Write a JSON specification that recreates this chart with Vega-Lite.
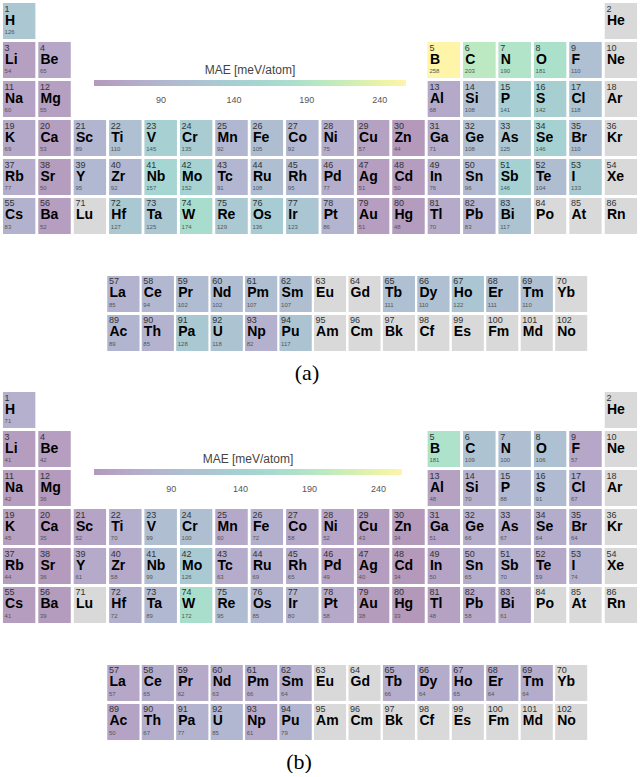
{
  "$schema": "https://vega.github.io/schema/vega-lite/v6.json",
  "padding": 0,
  "background": "white",
  "config": {"view": {"stroke": null}},
  "datasets": {
    "el": [
      {"n":1,"s":"H","c":1,"r":1,"a":126,"b":71},
      {"n":2,"s":"He","c":18,"r":1,"a":null,"b":null},
      {"n":3,"s":"Li","c":1,"r":2,"a":54,"b":41},
      {"n":4,"s":"Be","c":2,"r":2,"a":65,"b":42},
      {"n":5,"s":"B","c":13,"r":2,"a":258,"b":181},
      {"n":6,"s":"C","c":14,"r":2,"a":203,"b":109},
      {"n":7,"s":"N","c":15,"r":2,"a":190,"b":100},
      {"n":8,"s":"O","c":16,"r":2,"a":181,"b":106},
      {"n":9,"s":"F","c":17,"r":2,"a":110,"b":57},
      {"n":10,"s":"Ne","c":18,"r":2,"a":null,"b":null},
      {"n":11,"s":"Na","c":1,"r":3,"a":60,"b":42},
      {"n":12,"s":"Mg","c":2,"r":3,"a":55,"b":36},
      {"n":13,"s":"Al","c":13,"r":3,"a":68,"b":48},
      {"n":14,"s":"Si","c":14,"r":3,"a":108,"b":70},
      {"n":15,"s":"P","c":15,"r":3,"a":141,"b":88},
      {"n":16,"s":"S","c":16,"r":3,"a":142,"b":91},
      {"n":17,"s":"Cl","c":17,"r":3,"a":118,"b":67},
      {"n":18,"s":"Ar","c":18,"r":3,"a":null,"b":null},
      {"n":19,"s":"K","c":1,"r":4,"a":69,"b":45},
      {"n":20,"s":"Ca","c":2,"r":4,"a":53,"b":35},
      {"n":21,"s":"Sc","c":3,"r":4,"a":89,"b":52},
      {"n":22,"s":"Ti","c":4,"r":4,"a":110,"b":70},
      {"n":23,"s":"V","c":5,"r":4,"a":145,"b":99},
      {"n":24,"s":"Cr","c":6,"r":4,"a":135,"b":100},
      {"n":25,"s":"Mn","c":7,"r":4,"a":92,"b":60},
      {"n":26,"s":"Fe","c":8,"r":4,"a":105,"b":72},
      {"n":27,"s":"Co","c":9,"r":4,"a":92,"b":58},
      {"n":28,"s":"Ni","c":10,"r":4,"a":75,"b":52},
      {"n":29,"s":"Cu","c":11,"r":4,"a":57,"b":43},
      {"n":30,"s":"Zn","c":12,"r":4,"a":44,"b":34},
      {"n":31,"s":"Ga","c":13,"r":4,"a":71,"b":51},
      {"n":32,"s":"Ge","c":14,"r":4,"a":108,"b":66},
      {"n":33,"s":"As","c":15,"r":4,"a":125,"b":67},
      {"n":34,"s":"Se","c":16,"r":4,"a":146,"b":64},
      {"n":35,"s":"Br","c":17,"r":4,"a":110,"b":64},
      {"n":36,"s":"Kr","c":18,"r":4,"a":null,"b":null},
      {"n":37,"s":"Rb","c":1,"r":5,"a":77,"b":44},
      {"n":38,"s":"Sr","c":2,"r":5,"a":50,"b":36},
      {"n":39,"s":"Y","c":3,"r":5,"a":95,"b":61},
      {"n":40,"s":"Zr","c":4,"r":5,"a":92,"b":58},
      {"n":41,"s":"Nb","c":5,"r":5,"a":157,"b":99},
      {"n":42,"s":"Mo","c":6,"r":5,"a":152,"b":126},
      {"n":43,"s":"Tc","c":7,"r":5,"a":91,"b":63},
      {"n":44,"s":"Ru","c":8,"r":5,"a":108,"b":69},
      {"n":45,"s":"Rh","c":9,"r":5,"a":95,"b":65},
      {"n":46,"s":"Pd","c":10,"r":5,"a":77,"b":49},
      {"n":47,"s":"Ag","c":11,"r":5,"a":51,"b":40},
      {"n":48,"s":"Cd","c":12,"r":5,"a":50,"b":34},
      {"n":49,"s":"In","c":13,"r":5,"a":76,"b":50},
      {"n":50,"s":"Sn","c":14,"r":5,"a":96,"b":65},
      {"n":51,"s":"Sb","c":15,"r":5,"a":146,"b":70},
      {"n":52,"s":"Te","c":16,"r":5,"a":104,"b":59},
      {"n":53,"s":"I","c":17,"r":5,"a":133,"b":74},
      {"n":54,"s":"Xe","c":18,"r":5,"a":null,"b":null},
      {"n":55,"s":"Cs","c":1,"r":6,"a":83,"b":41},
      {"n":56,"s":"Ba","c":2,"r":6,"a":52,"b":39},
      {"n":71,"s":"Lu","c":3,"r":6,"a":null,"b":null},
      {"n":72,"s":"Hf","c":4,"r":6,"a":127,"b":72},
      {"n":73,"s":"Ta","c":5,"r":6,"a":125,"b":89},
      {"n":74,"s":"W","c":6,"r":6,"a":174,"b":172},
      {"n":75,"s":"Re","c":7,"r":6,"a":129,"b":95},
      {"n":76,"s":"Os","c":8,"r":6,"a":136,"b":85},
      {"n":77,"s":"Ir","c":9,"r":6,"a":123,"b":80},
      {"n":78,"s":"Pt","c":10,"r":6,"a":86,"b":58},
      {"n":79,"s":"Au","c":11,"r":6,"a":51,"b":38},
      {"n":80,"s":"Hg","c":12,"r":6,"a":48,"b":33},
      {"n":81,"s":"Tl","c":13,"r":6,"a":70,"b":48},
      {"n":82,"s":"Pb","c":14,"r":6,"a":83,"b":58},
      {"n":83,"s":"Bi","c":15,"r":6,"a":117,"b":61},
      {"n":84,"s":"Po","c":16,"r":6,"a":null,"b":null},
      {"n":85,"s":"At","c":17,"r":6,"a":null,"b":null},
      {"n":86,"s":"Rn","c":18,"r":6,"a":null,"b":null},
      {"n":57,"s":"La","c":4,"r":8,"a":85,"b":57},
      {"n":58,"s":"Ce","c":5,"r":8,"a":94,"b":65},
      {"n":59,"s":"Pr","c":6,"r":8,"a":102,"b":62},
      {"n":60,"s":"Nd","c":7,"r":8,"a":102,"b":63},
      {"n":61,"s":"Pm","c":8,"r":8,"a":107,"b":66},
      {"n":62,"s":"Sm","c":9,"r":8,"a":107,"b":64},
      {"n":63,"s":"Eu","c":10,"r":8,"a":null,"b":null},
      {"n":64,"s":"Gd","c":11,"r":8,"a":null,"b":null},
      {"n":65,"s":"Tb","c":12,"r":8,"a":111,"b":66},
      {"n":66,"s":"Dy","c":13,"r":8,"a":110,"b":64},
      {"n":67,"s":"Ho","c":14,"r":8,"a":122,"b":65},
      {"n":68,"s":"Er","c":15,"r":8,"a":111,"b":64},
      {"n":69,"s":"Tm","c":16,"r":8,"a":110,"b":64},
      {"n":70,"s":"Yb","c":17,"r":8,"a":null,"b":null},
      {"n":89,"s":"Ac","c":4,"r":9,"a":89,"b":50},
      {"n":90,"s":"Th","c":5,"r":9,"a":85,"b":67},
      {"n":91,"s":"Pa","c":6,"r":9,"a":128,"b":77},
      {"n":92,"s":"U","c":7,"r":9,"a":118,"b":85},
      {"n":93,"s":"Np","c":8,"r":9,"a":82,"b":61},
      {"n":94,"s":"Pu","c":9,"r":9,"a":117,"b":79},
      {"n":95,"s":"Am","c":10,"r":9,"a":null,"b":null},
      {"n":96,"s":"Cm","c":11,"r":9,"a":null,"b":null},
      {"n":97,"s":"Bk","c":12,"r":9,"a":null,"b":null},
      {"n":98,"s":"Cf","c":13,"r":9,"a":null,"b":null},
      {"n":99,"s":"Es","c":14,"r":9,"a":null,"b":null},
      {"n":100,"s":"Fm","c":15,"r":9,"a":null,"b":null},
      {"n":101,"s":"Md","c":16,"r":9,"a":null,"b":null},
      {"n":102,"s":"No","c":17,"r":9,"a":null,"b":null}
    ]
  },
  "spacing": 5,
  "resolve": {"scale": {"color": "independent"}, "legend": {"color": "independent"}},
  "vconcat": [
    {
      "width": 640, "height": 354,
      "data": {"name": "el"},
      "title": {"text": "(a)", "orient": "bottom", "font": "Liberation Serif", "fontSize": 22, "fontWeight": "normal", "color": "#000", "offset": 9, "dx": -13},
      "resolve": {"scale": {"x": "independent"}},
      "layer": [
        {
          "transform": [{"filter": "datum.r <= 6"}],
          "encoding": {
            "x": {"field": "c", "type": "ordinal", "axis": null, "scale": {"domain": [1,2,3,4,5,6,7,8,9,10,11,12,13,14,15,16,17,18], "paddingInner": 0.088, "paddingOuter": 0.084}},
            "y": {"field": "r", "type": "ordinal", "axis": null, "scale": {"domain": [1,2,3,4,5,6,7,8,9], "paddingInner": 0.077, "paddingOuter": 0.077}}
          },
          "layer": [
            {"mark": {"type": "rect", "fill": "#d9d9d9"}},
            {"transform": [{"filter": "isValid(datum.a)"}], "mark": {"type": "rect"},
             "encoding": {"color": {"field": "a", "type": "quantitative",
               "scale": {"domain": [44, 258], "range": ["#b499bb","#b6a7c8","#b3b4cf","#afbfd1","#aac9d2","#a6d3d1","#a7dcce","#b4e5c6","#caedb9","#e5f2a8","#fef5a8"]},
               "legend": {"orient": "none", "direction": "horizontal", "legendX": 94, "legendY": 65, "gradientLength": 312, "gradientThickness": 6, "values": [90,140,190,240], "title": "MAE [meV/atom]", "titleAnchor": "middle", "titleFontSize": 12, "titleFontWeight": "normal", "titleColor": "#444", "titleFont": "Liberation Sans", "titlePadding": 3, "labelFontSize": 9, "labelColor": "#555", "labelFont": "Liberation Sans", "labelOffset": 10, "gradientStrokeWidth": 0, "padding": 0}}}},
            {"mark": {"type": "text", "align": "left", "baseline": "alphabetic", "dx": -14.5, "dy": -9.5, "font": "Liberation Sans", "fontSize": 9, "color": "#333"}, "encoding": {"text": {"field": "n"}}},
            {"mark": {"type": "text", "align": "left", "baseline": "alphabetic", "dx": -14, "dy": 3.5, "font": "Liberation Sans", "fontSize": 14, "fontWeight": "bold", "color": "#000"}, "encoding": {"text": {"field": "s"}}},
            {"transform": [{"filter": "isValid(datum.a)"}], "mark": {"type": "text", "align": "left", "baseline": "alphabetic", "dx": -14.5, "dy": 13, "font": "Liberation Sans", "fontSize": 6, "color": "#555"}, "encoding": {"text": {"field": "a"}}}
          ]
        },
        {
          "transform": [{"filter": "datum.r >= 8"}],
          "encoding": {
            "x": {"field": "c", "type": "ordinal", "axis": null, "scale": {"domain": [1,2,3,4,5,6,7,8,9,10,11,12,13,14,15,16,17,18], "paddingInner": 0.07, "paddingOuter": 0.325, "align": 0.18}},
            "y": {"field": "r", "type": "ordinal", "axis": null, "scale": {"domain": [1,2,3,4,5,6,7,8,9], "paddingInner": 0.077, "paddingOuter": 0.077}}
          },
          "layer": [
            {"mark": {"type": "rect", "fill": "#d9d9d9"}},
            {"transform": [{"filter": "isValid(datum.a)"}], "mark": {"type": "rect"},
             "encoding": {"color": {"field": "a", "type": "quantitative",
               "scale": {"domain": [44, 258], "range": ["#b499bb","#b6a7c8","#b3b4cf","#afbfd1","#aac9d2","#a6d3d1","#a7dcce","#b4e5c6","#caedb9","#e5f2a8","#fef5a8"]},
               "legend": {"orient": "none", "direction": "horizontal", "legendX": 94, "legendY": 65, "gradientLength": 312, "gradientThickness": 6, "values": [90,140,190,240], "title": "MAE [meV/atom]", "titleAnchor": "middle", "titleFontSize": 12, "titleFontWeight": "normal", "titleColor": "#444", "titleFont": "Liberation Sans", "titlePadding": 3, "labelFontSize": 9, "labelColor": "#555", "labelFont": "Liberation Sans", "labelOffset": 10, "gradientStrokeWidth": 0, "padding": 0}}}},
            {"mark": {"type": "text", "align": "left", "baseline": "alphabetic", "dx": -14.5, "dy": -9.5, "font": "Liberation Sans", "fontSize": 9, "color": "#333"}, "encoding": {"text": {"field": "n"}}},
            {"mark": {"type": "text", "align": "left", "baseline": "alphabetic", "dx": -14, "dy": 3.5, "font": "Liberation Sans", "fontSize": 14, "fontWeight": "bold", "color": "#000"}, "encoding": {"text": {"field": "s"}}},
            {"transform": [{"filter": "isValid(datum.a)"}], "mark": {"type": "text", "align": "left", "baseline": "alphabetic", "dx": -14.5, "dy": 13, "font": "Liberation Sans", "fontSize": 6, "color": "#555"}, "encoding": {"text": {"field": "a"}}}
          ]
        }
      ]
    },
    {
      "width": 640, "height": 354,
      "data": {"name": "el"},
      "title": {"text": "(b)", "orient": "bottom", "font": "Liberation Serif", "fontSize": 22, "fontWeight": "normal", "color": "#000", "offset": 9, "dx": -21},
      "resolve": {"scale": {"x": "independent"}},
      "layer": [
        {
          "transform": [{"filter": "datum.r <= 6"}],
          "encoding": {
            "x": {"field": "c", "type": "ordinal", "axis": null, "scale": {"domain": [1,2,3,4,5,6,7,8,9,10,11,12,13,14,15,16,17,18], "paddingInner": 0.088, "paddingOuter": 0.084}},
            "y": {"field": "r", "type": "ordinal", "axis": null, "scale": {"domain": [1,2,3,4,5,6,7,8,9], "paddingInner": 0.077, "paddingOuter": 0.077}}
          },
          "layer": [
            {"mark": {"type": "rect", "fill": "#d9d9d9"}},
            {"transform": [{"filter": "isValid(datum.b)"}], "mark": {"type": "rect"},
             "encoding": {"color": {"field": "b", "type": "quantitative",
               "scale": {"domain": [34, 257], "range": ["#b499bb","#b6a7c8","#b3b4cf","#afbfd1","#aac9d2","#a6d3d1","#a7dcce","#b4e5c6","#caedb9","#e5f2a8","#fef5a8"]},
               "legend": {"orient": "none", "direction": "horizontal", "legendX": 94, "legendY": 65, "gradientLength": 308, "gradientThickness": 6, "values": [90,140,190,240], "title": "MAE [meV/atom]", "titleAnchor": "middle", "titleFontSize": 12, "titleFontWeight": "normal", "titleColor": "#444", "titleFont": "Liberation Sans", "titlePadding": 3, "labelFontSize": 9, "labelColor": "#555", "labelFont": "Liberation Sans", "labelOffset": 10, "gradientStrokeWidth": 0, "padding": 0}}}},
            {"mark": {"type": "text", "align": "left", "baseline": "alphabetic", "dx": -14.5, "dy": -9.5, "font": "Liberation Sans", "fontSize": 9, "color": "#333"}, "encoding": {"text": {"field": "n"}}},
            {"mark": {"type": "text", "align": "left", "baseline": "alphabetic", "dx": -14, "dy": 3.5, "font": "Liberation Sans", "fontSize": 14, "fontWeight": "bold", "color": "#000"}, "encoding": {"text": {"field": "s"}}},
            {"transform": [{"filter": "isValid(datum.b)"}], "mark": {"type": "text", "align": "left", "baseline": "alphabetic", "dx": -14.5, "dy": 13, "font": "Liberation Sans", "fontSize": 6, "color": "#555"}, "encoding": {"text": {"field": "b"}}}
          ]
        },
        {
          "transform": [{"filter": "datum.r >= 8"}],
          "encoding": {
            "x": {"field": "c", "type": "ordinal", "axis": null, "scale": {"domain": [1,2,3,4,5,6,7,8,9,10,11,12,13,14,15,16,17,18], "paddingInner": 0.07, "paddingOuter": 0.325, "align": 0.18}},
            "y": {"field": "r", "type": "ordinal", "axis": null, "scale": {"domain": [1,2,3,4,5,6,7,8,9], "paddingInner": 0.077, "paddingOuter": 0.077}}
          },
          "layer": [
            {"mark": {"type": "rect", "fill": "#d9d9d9"}},
            {"transform": [{"filter": "isValid(datum.b)"}], "mark": {"type": "rect"},
             "encoding": {"color": {"field": "b", "type": "quantitative",
               "scale": {"domain": [34, 257], "range": ["#b499bb","#b6a7c8","#b3b4cf","#afbfd1","#aac9d2","#a6d3d1","#a7dcce","#b4e5c6","#caedb9","#e5f2a8","#fef5a8"]},
               "legend": {"orient": "none", "direction": "horizontal", "legendX": 94, "legendY": 65, "gradientLength": 308, "gradientThickness": 6, "values": [90,140,190,240], "title": "MAE [meV/atom]", "titleAnchor": "middle", "titleFontSize": 12, "titleFontWeight": "normal", "titleColor": "#444", "titleFont": "Liberation Sans", "titlePadding": 3, "labelFontSize": 9, "labelColor": "#555", "labelFont": "Liberation Sans", "labelOffset": 10, "gradientStrokeWidth": 0, "padding": 0}}}},
            {"mark": {"type": "text", "align": "left", "baseline": "alphabetic", "dx": -14.5, "dy": -9.5, "font": "Liberation Sans", "fontSize": 9, "color": "#333"}, "encoding": {"text": {"field": "n"}}},
            {"mark": {"type": "text", "align": "left", "baseline": "alphabetic", "dx": -14, "dy": 3.5, "font": "Liberation Sans", "fontSize": 14, "fontWeight": "bold", "color": "#000"}, "encoding": {"text": {"field": "s"}}},
            {"transform": [{"filter": "isValid(datum.b)"}], "mark": {"type": "text", "align": "left", "baseline": "alphabetic", "dx": -14.5, "dy": 13, "font": "Liberation Sans", "fontSize": 6, "color": "#555"}, "encoding": {"text": {"field": "b"}}}
          ]
        }
      ]
    }
  ]
}
